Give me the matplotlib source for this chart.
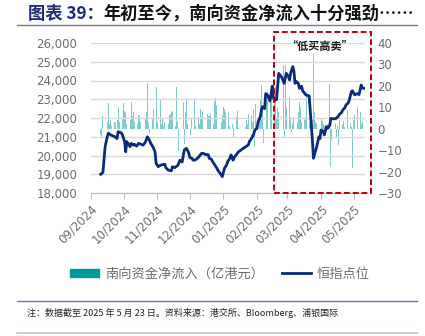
import numpy as np
import pandas as pd
import matplotlib
matplotlib.use("Agg")
import matplotlib.pyplot as plt
import matplotlib.dates as mdates
from matplotlib.patches import Patch, Rectangle
from matplotlib.lines import Line2D
from matplotlib.ticker import FuncFormatter

plt.rcParams['font.family'] = ['Noto Sans CJK SC', 'DejaVu Sans']

# HSI level, days counted from 2024-09-01
hsi_days = [9, 11, 13, 15, 16, 18, 22, 24, 25, 28, 29, 31, 32, 33, 36, 37, 39, 40, 42, 44,
            46, 48, 50, 51, 52, 54, 55, 57, 59, 60, 62, 63, 65, 68, 69, 71, 73, 74, 75, 77,
            80, 82, 84, 86, 88, 90, 91, 93, 94, 96, 97, 99, 102, 104, 106, 108, 109, 111, 112, 114,
            116, 117, 119, 121, 122, 123, 125, 126, 128, 129, 131, 132, 134, 136, 138, 140, 143, 145, 146, 148,
            150, 151, 153, 154, 156, 157, 158, 160, 161, 163, 165, 167, 168, 169, 171, 173, 176, 178, 180, 182,
            183, 184, 186, 187, 188, 189, 191, 192, 194, 195, 197, 198, 201, 202, 204, 205, 208, 210, 211, 212,
            214, 215, 217, 218, 220, 221, 223, 224, 226, 228, 229, 231, 232, 234, 235, 237, 238, 240, 241, 243,
            245, 247, 248, 249, 250, 252]
hsi = [19000, 19100, 20470, 21000, 21190, 21100, 21000, 20900, 21270, 21200, 21100, 20740, 20200, 20740, 20470, 20650, 20550, 20600, 20500, 20650,
       20600, 20550, 20700, 20850, 21000, 20800, 20650, 20470, 20200, 19580, 19400, 19450, 19500, 19530, 19350, 19230, 19200, 19180, 19400, 19350,
       19470, 19750, 19650, 20300, 20380, 20150, 19900, 19850, 19750, 19760, 19800, 19900, 20120, 20100, 20040, 20050, 19850, 19800, 19680, 19500,
       19320, 19200, 19050, 18870, 19100, 19320, 19500, 19680, 19850, 20030, 19750, 19900, 20050, 20200, 20280, 20370, 20480, 20560, 20750, 20920,
       21150, 21360, 21450, 21800, 22070, 22400, 22600, 22500, 23300, 23200, 22900, 23700, 23100, 22950, 22980, 24380, 24150, 23850, 24380, 24200,
       24030, 24400, 24740, 24500, 23850, 23950, 23850, 23580, 23700, 23450, 23300, 23230, 23180, 22430, 20830, 19850, 20470, 21000, 20900, 21360,
       21300, 21100, 21540, 21450, 21600, 21980, 21950, 21960, 21980, 22100, 22200, 22300, 22430, 22550, 22700, 22800, 22960, 23410, 23450, 23230,
       23300, 23250, 23500, 23760, 23600, 23580]

# Southbound net inflow (HK$ 100m), one value per business day from 2024-09-10
flow_start = '2024-09-10'
flow = [-3, -4, 6, -2, 3, 12, 2, 4, 1.5, 3, 2.5, 4, 10, 3, 5, 12, 8.5, 8, 2, 4,
        12.4, 6, 8, 3, 2, 6.5, 6, 3, 2, 4.7, 8, 21.5, 3, -2, 4.7, 9.3, 9, 19.4, 3, 13.2,
        2, 5, 1.5, 3, 2, 6.5, 7, 7.8, 8.5, 1.5, 19.4, 3, -10.5, 2, 12.4, -7, 8, 14, 2, -3,
        5, 2, 14, 1.5, 5.5, 2, 9.3, 4.7, 8.5, 3, 7, 6, 6, 7, 2, 13, 14.3, 10.9, 4.7, 3,
        6.2, 10, 9.3, 7.8, 7.8, 1.5, 3.9, 2, -4, 5.5, 8.5, 0.5, 0, 0, 0.5, 1, 3.9, 2, 7, 6.2,
        3, 9.3, -8.5, 11.7, 4, 14, 20.5, 8.5, -6.5, 14.8, 17, 21.8, 17, 12.4, 15.5, 20, 5, 9.5, 8, 6.4,
        29.7, -3.7, 29.7, 10, 15, 5.5, -1.4, 2.5, 5.5, 3, 8, 12.6, 10.3, 3.3, 4, 5.5, 17, 26, 2.5, 4,
        35, 8, 3, 2.5, 4, 4.7, 3.5, 2, 1.5, 2, 1.5, 21, -17.7, -5.3, 2, -3.7, 1.5, -7.6, 4, 2,
        3.5, 1, -3.7, 8.7, 2.5, 1, -18.5, 4, 6.4, 10.3, 3.5, 8, 2, 3.5, -1.4]

month_ticks = ['2024-09-01', '2024-10-01', '2024-11-01', '2024-12-01', '2025-01-01',
               '2025-02-01', '2025-03-01', '2025-04-01', '2025-05-01']

base = pd.Timestamp('2024-09-01')
hsi_dates = base + pd.to_timedelta(hsi_days, unit='D')
flow_dates = pd.bdate_range(flow_start, periods=len(flow))

gray = '#6E6E6E'
navy = '#0A2A7A'
teal = '#009999'

fig = plt.figure(figsize=(4.25, 3.36), dpi=100)
ax1 = fig.add_axes([91 / 425, 1 - 193 / 336, (365 - 91) / 425, (193 - 43) / 336])
ax2 = ax1.twinx()

ax2.bar(flow_dates, flow, width=0.85, color='#55BCBC', alpha=0.75, linewidth=0)
ax1.plot(hsi_dates, hsi, color=navy, lw=2.0, solid_joinstyle='round')
ax1.set_zorder(ax2.get_zorder() + 1)
ax1.patch.set_visible(False)

ax1.set_ylim(18000, 26000)
ax1.set_yticks(np.arange(18000, 26001, 1000))
ax1.yaxis.set_major_formatter(FuncFormatter(lambda v, p: f'{int(v):,}'))
ax2.set_ylim(-30, 40)
ax2.set_yticks(np.arange(-30, 41, 10))
ax1.set_xlim(base, base + pd.Timedelta(days=252.5))
ax1.set_xticks(pd.to_datetime(month_ticks))
ax1.xaxis.set_major_formatter(mdates.DateFormatter('%m/%Y'))

ax1.grid(axis='y', color='#D9D9D9', lw=1.0)
for ax in (ax1, ax2):
    for s in ax.spines.values():
        s.set_visible(False)
ax1.spines['bottom'].set_visible(True)
ax1.spines['bottom'].set_color('#BFBFBF')
ax1.tick_params(axis='y', length=0, pad=10, labelsize=8.5, labelcolor=gray)
ax2.tick_params(axis='y', length=0, pad=9, labelsize=8.5, labelcolor=gray)
ax1.tick_params(axis='x', length=4, color='#BFBFBF', pad=3, labelsize=8.5, labelcolor=gray)
for lab in ax1.get_xticklabels() + ax1.get_yticklabels() + ax2.get_yticklabels():
    lab.set_fontfamily('DejaVu Sans')
for lab in ax1.get_xticklabels():
    lab.set_rotation(45)
    lab.set_ha('right')
    lab.set_rotation_mode('anchor')

# dashed box for the "low buy, high sell" period
fig.patches.append(Rectangle((274 / 425, 1 - 193 / 336), 97 / 425, 161 / 336,
                             transform=fig.transFigure, fill=False,
                             edgecolor='#C00000', lw=1.4, ls=(0, (3, 1.5))))
fig.text(320 / 425, 1 - 46 / 336, '“低买高卖”', ha='center', va='center',
         fontsize=8, fontweight='bold', color='#1A1A1A')

# title
t1 = fig.text(28 / 425, 1 - 14 / 336, '图表 39：', fontsize=12.4, fontweight='bold',
              color='#1F2A78', va='center', ha='left')
fig.canvas.draw()
bb = t1.get_window_extent()
fig.text(bb.x1 / fig.bbox.width, 1 - 14 / 336, '年初至今，南向资金净流入十分强劲……',
         fontsize=12.4, fontweight='bold', color='#111111', va='center', ha='left')
fig.add_artist(Line2D([17 / 425, 417 / 425], [1 - 25 / 336] * 2, transform=fig.transFigure,
                      color='#7B74A8', lw=1.0))

# legend
handles = [Patch(color=teal), Line2D([], [], color=navy, lw=2.0)]
fig.legend(handles, ['南向资金净流入（亿港元）', '恒指点位'], loc='center',
           bbox_to_anchor=(220 / 425, 1 - 274 / 336), ncol=2, frameon=False,
           fontsize=9.5, labelcolor=gray, handlelength=2.2, handleheight=0.6,
           handletextpad=0.4, columnspacing=1.4)

# footnote
fig.add_artist(Line2D([17 / 425, 417 / 425], [1 - 301 / 336] * 2, transform=fig.transFigure,
                      color='#7B74A8', lw=1.0))
fig.text(27 / 425, 1 - 313 / 336, '注：数据截至 2025 年 5 月 23 日。资料来源：港交所、Bloomberg、浦银国际',
         fontsize=6.5, color='#222222', va='center', ha='left')
fig.add_artist(Line2D([17 / 425, 417 / 425], [1 - 333 / 336] * 2, transform=fig.transFigure,
                      color='#C8C8B4', lw=1.2))

fig.savefig('out.png', dpi=100)
